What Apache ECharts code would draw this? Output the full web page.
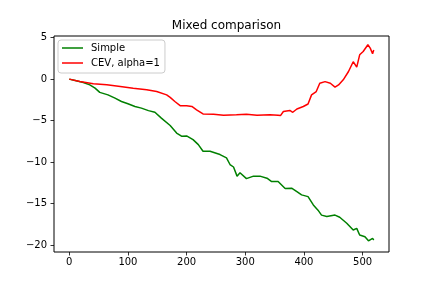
<!DOCTYPE html>
<html>
<head>
<meta charset="utf-8">
<script src="https://cdn.jsdelivr.net/npm/echarts@6/dist/echarts.min.js"></script>
<style>html,body{margin:0;padding:0;background:#fff}#c{width:432px;height:288px}</style>
</head>
<body>
<div id="c"></div>
<script>
const titleText = 'Mixed comparison';
const seriesNames = ['Simple', 'CEV, alpha=1'];
const simpleX = [0,10,24,35,44,52,66,78,89,100,112,123,135,146,157,172,183,192,200,211,220,228,240,257,268,274,280,286,291,302,314,325,337,345,356,368,379,388,396,407,416,424,430,439,453,461,473,484,490,495,504,510,517,519];
const simpleY = [0,-0.17,-0.41,-0.69,-1.09,-1.6,-1.9,-2.3,-2.7,-2.98,-3.3,-3.5,-3.8,-4.0,-4.7,-5.6,-6.5,-6.9,-6.85,-7.3,-7.9,-8.7,-8.7,-9.1,-9.5,-10.3,-10.6,-11.7,-11.3,-12.0,-11.7,-11.7,-11.95,-12.35,-12.35,-13.2,-13.16,-13.57,-13.96,-14.17,-15.17,-15.8,-16.4,-16.58,-16.4,-16.66,-17.38,-18.2,-18.0,-18.8,-19.0,-19.5,-19.2,-19.4];
const cevX = [0,18,41,64,87,109,132,149,166,172,180,189,200,209,217,228,246,263,285,302,320,342,356,360,365,368,376,381,388,399,407,413,421,427,436,445,453,459,467,476,484,490,495,501,509,513,517,519];
const cevY = [0,-0.29,-0.57,-0.69,-0.89,-1.09,-1.29,-1.5,-1.9,-2.2,-2.7,-3.2,-3.2,-3.3,-3.7,-4.2,-4.25,-4.35,-4.3,-4.25,-4.35,-4.3,-4.35,-4.4,-3.9,-3.7,-3.78,-4.0,-3.6,-3.3,-3.0,-1.9,-1.5,-0.5,-0.3,-0.5,-0.97,-0.7,-0.08,0.92,2.1,1.45,2.93,3.33,4.14,3.74,3.05,3.5];
const xTicks = [0,100,200,300,400,500];
const yTicks = [-20,-15,-10,-5,0,5];

const font = 'DejaVu Sans';
const fmt = v => (v < 0 ? '\u2212' + Math.abs(v) : String(v));
const chart = echarts.init(document.getElementById('c'), null, {renderer: 'canvas'});
chart.setOption({
  animation: false,
  backgroundColor: '#fff',
  title: {
    text: titleText, left: 221.5, top: 15, textAlign: 'center',
    textStyle: {fontFamily: font, fontSize: 12, fontWeight: 'normal', color: '#000', lineHeight: 12}
  },
  legend: {
    orient: 'vertical', left: 58, top: 40,
    padding: [2, 5, 4, 4], itemGap: 3,
    itemWidth: 21, itemHeight: 1.5, icon: 'rect',
    borderColor: '#cccccc', borderWidth: 1, borderRadius: 3,
    backgroundColor: 'rgba(255,255,255,0.8)',
    textStyle: {fontFamily: font, fontSize: 10, color: '#000', lineHeight: 12, padding: [0, 0, 0, 3]},
    data: seriesNames
  },
  grid: {left: 54, right: 43, top: 36, bottom: 36, show: true, borderColor: '#000', borderWidth: 1, containLabel: false},
  xAxis: {
    type: 'value', min: -26, max: 545,
    axisLine: {show: false, onZero: false},
    splitLine: {show: false},
    axisTick: {show: true, inside: false, length: 3.5, lineStyle: {color: '#000', width: 0.8}, customValues: xTicks},
    axisLabel: {fontFamily: font, fontSize: 10, color: '#000', margin: 5, customValues: xTicks, formatter: fmt}
  },
  yAxis: {
    type: 'value', min: -20.85, max: 5.2,
    axisLine: {show: false, onZero: false},
    splitLine: {show: false},
    axisTick: {show: true, inside: false, length: 3.5, lineStyle: {color: '#000', width: 0.8}, customValues: yTicks},
    axisLabel: {fontFamily: font, fontSize: 10, color: '#000', margin: 7, customValues: yTicks, formatter: fmt}
  },
  series: [
    {name: seriesNames[0], type: 'line', symbol: 'none', color: '#008000', lineStyle: {width: 1.5, color: '#008000'},
     data: simpleX.map((x, i) => [x, simpleY[i]])},
    {name: seriesNames[1], type: 'line', symbol: 'none', color: '#ff0000', lineStyle: {width: 1.5, color: '#ff0000'},
     data: cevX.map((x, i) => [x, cevY[i]])}
  ]
});
</script>
</body>
</html>
